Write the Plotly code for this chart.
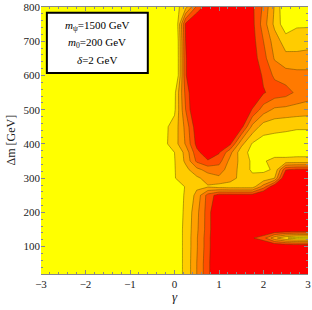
import plotly.graph_objects as go

# grid of the contour data
gamma = [-3, -0.25, 0, 0.25, 0.5, 0.75, 1, 1.25, 1.5, 1.75, 2, 2.25, 2.5, 2.75, 3]
dm = [20, 50, 100, 125, 150, 200, 250, 275, 300, 325, 350, 375, 400, 450, 500,
      550, 600, 650, 700, 750, 800]

z_20 = [0, 0, 0, 0.7, 2.5, 4.2, 6, 6, 6, 6, 6, 6, 6, 6, 6]
z_50 = [0, 0, 0, 0.7, 2.5, 4.2, 6, 6, 6, 6, 6, 6, 6, 6, 6]
z_100 = [0, 0, 0, 0.7, 2.4, 4.1, 6, 6, 6, 6, 6, 6, 6, 6, 6]
z_125 = [0, 0, 0, 0.7, 2.4, 4.1, 6, 6, 6, 4.6, 3.9, 1.8, 0.6, 0.1, 0]
z_150 = [0, 0, 0, 0.7, 2.3, 4.0, 6, 6, 6, 6, 6, 6, 6, 6, 6]
z_200 = [0, 0, 0, 0.65, 2.2, 4.0, 6, 6, 6, 6, 6, 6, 6, 6, 6]
z_250 = [0, 0, 0, 0.6, 1.8, 3.9, 5.0, 5.0, 5.0, 5.0, 6, 6, 6, 6, 6]
z_275 = [0, 0, 0, 0.55, 1.3, 1.4, 1.1, 1.0, 1.0, 1.0, 3.0, 5.5, 6, 6, 6]
z_300 = [0, 0, 0.45, 1.0, 1.3, 1.9, 2.3, 1.9, 1.2, 0.8, 0.8, 1.5, 6, 6, 6]
z_325 = [0, 0, 0.45, 1.2, 2.2, 2.9, 3.0, 2.0, 1.2, 0.3, 0.35, 0.6, 4.4, 4.7, 4.7]
z_350 = [0, 0, 0.45, 1.7, 3.7, 4.4, 3.9, 2.2, 1.2, 0.3, 0.4, 0.8, 0.8, 0.8, 0.8]
z_375 = [0, 0, 0.5, 1.8, 4.2, 5.2, 4.6, 2.8, 0.9, 0.2, 0.1, 0.1, 0.1, 0.2, 0.2]
z_400 = [0, 0.2, 1.0, 2.6, 4.8, 6, 6, 4.7, 1.8, 0.4, 0, 0, 0, 0, 0]
z_450 = [0, 0.2, 0.9, 2.8, 5.2, 6, 6, 6, 4.9, 2.2, 1.0, 0.8, 0.7, 0.6, 0.6]
z_500 = [0, 0, 0.3, 3.5, 6, 6, 6, 6, 6, 4.4, 3.0, 2.3, 2.2, 2.1, 2.0]
z_550 = [0, 0, 0.2, 3.8, 6, 6, 6, 6, 6, 6, 4.6, 4.1, 3.9, 3.3, 3.0]
z_600 = [0, 0, -1.5, 4.4, 6, 6, 6, 6, 6, 5.5, 4.3, 3.3, 3.0, 2.9, 2.9]
z_650 = [0, 0, -1.5, 4.4, 6, 6, 6, 6, 6, 5.0, 3.9, 2.4, 1.8, 1.7, 1.7]
z_700 = [0, 0, -1.5, 4.5, 6, 6, 6, 6, 6, 4.9, 3.5, 2.0, 1.04, 1.2, 1.3]
z_750 = [0, 0, -1.2, 4.7, 6, 6, 6, 6, 6, 4.8, 3.0, 1.25, -0.2, 0.3, 0.3]
z_800 = [0, 0, 0, 1.14, 3.7, 5.2, 7, 7, 6.5, 4.7, 3.3, 1.4, -0.5, -0.5, -0.5]

Z = [z_20, z_50, z_100, z_125, z_150, z_200, z_250, z_275, z_300, z_325, z_350,
     z_375, z_400, z_450, z_500, z_550, z_600, z_650, z_700, z_750, z_800]

x_ticks = [-3, -2, -1, 0, 1, 2, 3]
y_ticks = [100, 200, 300, 400, 500, 600, 700, 800]

band_colors = ["#FFFF00", "#FFCC00", "#FF9F00", "#FF7A00", "#FF4D00", "#FF0000"]
cscale = []
edges = [0, 0.1, 0.3, 0.5, 0.7, 0.9, 1.0]
for i, c in enumerate(band_colors):
    cscale.append([edges[i], c])
    cscale.append([edges[i + 1], c])

FONT = "Liberation Serif"

fig = go.Figure()
fig.add_trace(go.Contour(
    x=gamma, y=dm, z=Z,
    zmin=0, zmax=5, colorscale=cscale, showscale=False,
    contours=dict(start=0.5, end=4.5, size=1, coloring="fill"),
    line=dict(color="rgba(90,70,0,0.65)", width=0.7, smoothing=0),
    hoverinfo="skip",
))

fig.update_layout(
    width=312, height=310,
    margin=dict(l=41, r=4, t=7, b=36),
    paper_bgcolor="white", plot_bgcolor="white",
    font=dict(family=FONT, size=11, color="#222"),
    showlegend=False,
)
fig.update_xaxes(
    range=[-3, 3], tickvals=x_ticks, ticks="inside", ticklen=4, tickcolor="#888",
    showline=True, linecolor="#888", linewidth=1, mirror="ticks",
    showgrid=False, zeroline=False, automargin=False, ticklabeloverflow="allow",
    minor=dict(dtick=0.2, ticks="inside", ticklen=2, tickcolor="#888"),
)
fig.update_yaxes(
    range=[20, 800], tickvals=y_ticks, ticks="inside", ticklen=4, tickcolor="#888",
    showline=False, mirror="ticks",
    showgrid=False, zeroline=False, automargin=False, ticklabeloverflow="allow",
    minor=dict(dtick=20, ticks="inside", ticklen=2, tickcolor="#888"),
)

# axis titles
fig.add_annotation(text="<i>γ</i>", xref="paper", yref="paper", x=0.5, y=-0.086,
                   showarrow=False, font=dict(family=FONT, size=13, color="#222"),
                   xanchor="center", yanchor="middle")
fig.add_annotation(text="Δm [GeV]", xref="paper", yref="paper", x=-0.116, y=0.5,
                   textangle=-90, showarrow=False,
                   font=dict(family=FONT, size=12, color="#222"),
                   xanchor="center", yanchor="middle")

fig.add_shape(type="rect", xref="paper", yref="paper",
              x0=0.022, x1=0.40, y0=0.753, y1=0.978,
              line=dict(color="black", width=2), fillcolor="white")
labels = ["<i>m</i><sub>ψ</sub>=1500 GeV", "<i>m</i><sub>0</sub>=200 GeV", "<i>δ</i>=2 GeV"]
ypos = [0.929, 0.865, 0.80]
for t, yy in zip(labels, ypos):
    fig.add_annotation(text=t, xref="paper", yref="paper", x=0.211, y=yy,
                       showarrow=False, font=dict(family=FONT, size=11, color="black"),
                       xanchor="center", yanchor="middle")

fig.write_html("out.html", config={"displayModeBar": False},
               post_script="document.body.style.margin='0';")
